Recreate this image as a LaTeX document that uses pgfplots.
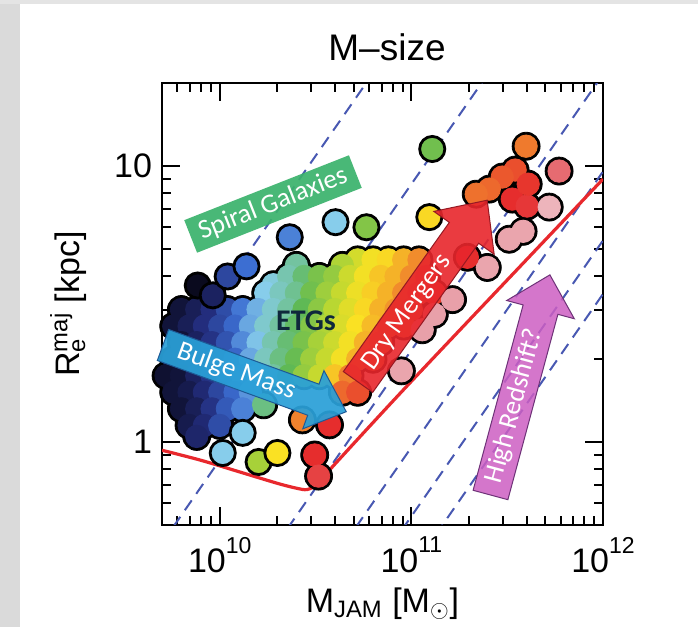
\documentclass[border=0pt]{standalone}
\usepackage{fontspec}
\setmainfont{Liberation Sans}
\newfontfamily\carlito{Carlito}
\usepackage{pgfplots}
\pgfplotsset{compat=1.18}
\usepackage{pgfplotstable}

\definecolor{sigblue}{RGB}{72,88,178}
\definecolor{zoered}{RGB}{232,40,45}
\definecolor{spiralgreen}{RGB}{58,178,108}
\definecolor{bulgeblue}{RGB}{42,160,216}
\definecolor{bulgeedge}{RGB}{30,90,150}
\definecolor{dryred}{RGB}{232,38,44}
\definecolor{dryedge}{RGB}{150,25,35}
\definecolor{hzmag}{RGB}{205,95,195}
\definecolor{hzedge}{RGB}{110,50,120}
\definecolor{etgcol}{RGB}{15,40,60}
\definecolor{bandgray}{RGB}{218,218,218}
\definecolor{topgray}{RGB}{228,228,228}

\newcommand\sups[1]{\raisebox{0.58em}{\fontsize{11.5}{12}\selectfont #1}}

% galaxies forming the merged cloud (mass, size, colour index)
\pgfplotstableread{
m r c
5.248e10 4.571 5.4
6.310e10 4.571 5.9
7.586e10 4.571 6.1
9.120e10 4.571 6.5
1.096e11 4.571 6.9
2.512e10 4.365 3.5
4.365e10 4.365 4.9
1.905e10 3.715 3.1
2.291e10 3.981 3.4
2.754e10 3.981 3.8
3.311e10 3.981 4.3
3.981e10 3.981 4.6
4.786e10 3.981 5.3
5.754e10 3.981 5.9
6.918e10 3.981 6.3
8.318e10 3.981 6.5
1.000e11 3.981 6.9
1.202e11 3.981 7.4
1.738e10 3.467 3.0
2.089e10 3.467 3.3
2.512e10 3.467 3.6
3.020e10 3.467 4.2
3.631e10 3.467 4.7
4.365e10 3.467 5.2
5.248e10 3.467 5.8
6.310e10 3.467 6.2
7.586e10 3.467 6.5
9.120e10 3.467 6.9
1.096e11 3.467 7.3
1.318e11 3.467 7.8
6.310e9 3.020 0.3
7.586e9 3.020 0.6
9.120e9 3.020 1.0
1.096e10 3.020 1.5
1.318e10 3.020 2.1
1.585e10 3.020 2.7
1.905e10 3.020 3.2
2.291e10 3.020 3.5
2.754e10 3.020 4.0
3.311e10 3.020 4.5
3.981e10 3.020 5.0
4.786e10 3.020 5.6
5.754e10 3.020 6.1
6.918e10 3.020 6.5
8.318e10 3.020 6.8
1.000e11 3.020 7.2
5.754e9 2.630 0.3
6.918e9 2.630 0.6
8.318e9 2.630 1.0
1.000e10 2.630 1.4
1.202e10 2.630 1.9
1.445e10 2.630 2.6
1.738e10 2.630 3.2
2.089e10 2.630 3.5
2.512e10 2.630 3.9
3.020e10 2.630 4.4
3.631e10 2.630 4.9
4.365e10 2.630 5.5
5.248e10 2.630 6.0
6.310e10 2.630 6.4
7.586e10 2.630 6.8
9.120e10 2.630 7.1
6.310e9 2.291 0.3
7.586e9 2.291 0.7
9.120e9 2.291 1.1
1.096e10 2.291 1.6
1.318e10 2.291 2.3
1.585e10 2.291 2.9
1.905e10 2.291 3.4
2.291e10 2.291 3.8
2.754e10 2.291 4.3
3.311e10 2.291 4.8
3.981e10 2.291 5.3
4.786e10 2.291 5.9
5.754e10 2.291 6.5
6.918e10 2.291 6.9
5.754e9 1.995 0.3
6.918e9 1.995 0.6
8.318e9 1.995 1.0
1.000e10 1.995 1.4
1.202e10 1.995 1.9
1.445e10 1.995 2.6
1.738e10 1.995 3.3
2.089e10 1.995 3.7
2.512e10 1.995 4.1
3.020e10 1.995 4.7
3.631e10 1.995 5.2
4.365e10 1.995 5.9
5.248e10 1.995 6.5
6.310e10 1.995 7.0
5.248e9 1.738 0.2
6.310e9 1.738 0.3
7.586e9 1.738 0.7
9.120e9 1.738 1.1
1.096e10 1.738 1.6
1.318e10 1.738 2.2
1.585e10 1.738 2.9
1.905e10 1.738 3.5
2.291e10 1.738 4.0
2.754e10 1.738 4.6
3.311e10 1.738 5.2
3.981e10 1.738 6.3
4.786e10 1.738 7.0
5.754e9 1.514 0.3
6.918e9 1.514 0.5
8.318e9 1.514 0.9
1.000e10 1.514 1.4
1.202e10 1.514 1.9
1.445e10 1.514 2.4
4.365e10 1.514 7.3
5.248e10 1.514 7.6
6.310e9 1.318 0.3
7.586e9 1.318 0.6
9.120e9 1.318 1.1
1.096e10 1.318 1.7
1.318e10 1.318 2.2
1.695e10 1.363 3.7
6.918e9 1.148 0.5
8.318e9 1.148 0.9
1.000e10 1.148 1.5
7.586e9 1.047 0.8
2.70e10 1.202 7.0
3.74e10 1.153 8.0
3.13e10 0.897 8.0
3.28e10 0.752 8.2
3.97e11 11.8 7.1
3.48e11 9.67 7.6
2.98e11 9.12 7.5
2.55e11 8.25 7.3
2.18e11 7.91 7.2
3.36e11 7.59 8.0
4.02e11 7.16 8.1
4.07e11 8.60 7.9
5.90e11 9.59 8.6
5.24e11 7.10 9.6
3.83e11 5.80 9.3
3.24e11 5.43 9.3
2.49e11 4.29 9.3
1.64e11 3.28 9.2
1.318e11 2.90 9.2
1.14e11 2.55 9.2
8.87e10 1.81 9.3
1.96e11 4.67 8.0
}\cloud

% galaxies drawn with their own outline, in this order
\pgfplotstableread{
m r c
7.68e9 3.69 0.0
9.20e9 3.40 0.7
1.10e10 3.98 1.4
1.38e10 4.33 2.0
2.32e10 5.52 2.2
4.02e10 6.26 3.0
5.83e10 6.00 4.4
1.285e11 11.53 4.2
1.241e11 6.53 6.1
1.318e10 1.079 3.0
1.037e10 0.912 3.0
1.596e10 0.846 4.8
2.00e10 0.912 6.0
}\single

\begin{document}
\begin{tikzpicture}
\useasboundingbox (0,0) rectangle (349pt,313.5pt);
\fill[white] (0,0) rectangle (349pt,313.5pt);
\fill[bandgray] (0,0) rectangle (10pt,313.5pt);
\fill[topgray] (0,311.5pt) rectangle (349pt,313.5pt);

\begin{axis}[
  at={(81pt,51pt)}, anchor=south west,
  scale only axis, width=220.5pt, height=221pt,
  xmode=log, ymode=log,
  xmin=5e9, xmax=1e12, ymin=0.5, ymax=20,
  xtick={1e10,1e11,1e12},
  xticklabels={10\sups{10},10\sups{11},10\sups{12}},
  minor xtick={6e9,7e9,8e9,9e9,2e10,3e10,4e10,5e10,6e10,7e10,8e10,9e10,2e11,3e11,4e11,5e11,6e11,7e11,8e11,9e11},
  ytick={1,10}, yticklabels={1,10},
  minor ytick={0.6,0.7,0.8,0.9,2,3,4,5,6,7,8,9},
  tick align=inside, tick pos=both,
  major tick length=9pt, minor tick length=4.5pt,
  tick style={black, line width=1pt},
  axis line style={line width=1.2pt},
  ticklabel style={font=\fontsize{17}{19}\selectfont},
  xticklabel style={yshift=-2.5pt},
  yticklabel style={xshift=-1.5pt},
  colormap={sauron}{rgb255=(10,10,30) rgb255=(35,45,125) rgb255=(60,110,210) rgb255=(135,205,235) rgb255=(95,185,85) rgb255=(185,215,50) rgb255=(250,225,35) rgb255=(240,130,45) rgb255=(230,45,45) rgb255=(230,150,160) rgb255=(242,200,205)},
  point meta min=0, point meta max=10,
  xlabel={M\textsubscript{JAM} [M\textsubscript{$\odot$}]},
  ylabel={R\rlap{\textsubscript{e}}\textsuperscript{maj} [kpc]},
  label style={font=\fontsize{17}{19}\selectfont},
  xlabel style={at={(axis description cs:0.5,-0.197)}, anchor=base},
  ylabel style={at={(axis description cs:-0.186,0.5)}, anchor=base},
]
% black outline layer of the cloud
\addplot[only marks, mark=*, mark size=7pt, mark options={draw=none, fill=black}] table[x=m, y=r] {\cloud};
% coloured fill layer
\addplot[scatter, only marks, mark=*, mark size=5.6pt, point meta=explicit,
  scatter/use mapped color={draw=mapped color, fill=mapped color}] table[x=m, y=r, meta=c] {\cloud};
% individually outlined galaxies
\addplot[scatter, only marks, mark=*, mark size=6.3pt, point meta=explicit,
  scatter/use mapped color={draw=black, fill=mapped color}, mark options={line width=1.4pt}] table[x=m, y=r, meta=c] {\single};

% lines of constant sigma = 50,100,200,300,400,500 km/s
\addplot[sigblue, line width=1pt, dash pattern=on 6pt off 4pt] coordinates {(5e9,1.72) (1e12,344)};
\addplot[sigblue, line width=1pt, dash pattern=on 6pt off 4pt] coordinates {(5e9,0.43) (1e12,86)};
\addplot[sigblue, line width=1pt, dash pattern=on 6pt off 4pt] coordinates {(5e9,0.1075) (1e12,21.5)};
\addplot[sigblue, line width=1pt, dash pattern=on 6pt off 4pt] coordinates {(5e9,0.0478) (1e12,9.556)};
\addplot[sigblue, line width=1pt, dash pattern=on 6pt off 4pt] coordinates {(5e9,0.0269) (1e12,5.375)};
\addplot[sigblue, line width=1pt, dash pattern=on 6pt off 4pt] coordinates {(5e9,0.0172) (1e12,3.44)};

% zone of exclusion
\addplot[zoered, line width=1.6pt, smooth, tension=0.5] coordinates {
 (5.0e9,0.933) (7.94e9,0.859) (1.26e10,0.780) (2.0e10,0.708) (2.51e10,0.680)
 (2.85e10,0.672) (3.2e10,0.700) (3.7e10,0.785) (1.057e11,1.728) (1e12,8.97)};
\end{axis}

\begin{scope}[shift={(0pt,313.5pt)}, x=0.5pt, y=-0.5pt]
\node[anchor=base, font=\fontsize{18.5}{20}\selectfont] at (387,61) {M–size};

% Spiral Galaxies box
\node[fill=spiralgreen, fill opacity=0.92, text opacity=1, text=white, rotate=21.5,
  minimum width=88.5pt, minimum height=17.5pt, inner sep=0pt,
  font=\carlito\fontsize{13.5}{15}\selectfont] at (273,204) {Spiral Galaxies};

% Bulge Mass arrow
\begin{scope}[shift={(163,345)}, rotate=-20]
\filldraw[fill=bulgeblue, draw=bulgeedge, line width=0.5pt, fill opacity=0.93]
  (0,-16.5) -- (160,-16.5) -- (160,-31) -- (195,0) -- (160,31) -- (160,16.5) -- (0,16.5) -- cycle;
\node[rotate=-20, text=white, font=\carlito\fontsize{13.5}{15}\selectfont] at (78,0) {Bulge Mass};
\end{scope}

% Dry Mergers arrow
\begin{scope}[shift={(358,382)}, rotate=54.6]
\filldraw[fill=dryred, draw=dryedge, line width=0.5pt, fill opacity=0.9]
  (0,-18) -- (183,-18) -- (183,-37) -- (223,0) -- (183,37) -- (183,18) -- (0,18) -- cycle;
\node[rotate=54.6, text=white, font=\carlito\fontsize{13.5}{15}\selectfont] at (85,0) {Dry Mergers};
\end{scope}

% High Redshift arrow
\begin{scope}[shift={(490.5,495)}, rotate=74.9]
\filldraw[fill=hzmag, draw=hzedge, line width=0.5pt, fill opacity=0.85]
  (0,-18) -- (192,-18) -- (192,-35) -- (228,0) -- (192,35) -- (192,18) -- (0,18) -- cycle;
\node[rotate=74.9, text=white, font=\carlito\fontsize{13.5}{15}\selectfont] at (92,0) {High Redshift?};
\end{scope}

\node[text=etgcol, font=\carlito\bfseries\fontsize{15}{17}\selectfont] at (306,321) {ETGs};
\end{scope}
\end{tikzpicture}
\end{document}
